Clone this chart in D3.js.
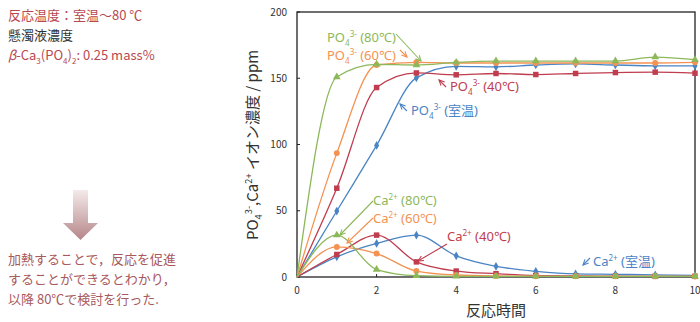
<!DOCTYPE html>
<html>
<head>
<meta charset="utf-8">
<script src="https://cdn.jsdelivr.net/npm/d3@7"></script>
<style>
  body { margin: 0; background: #fff; }
  text { font-family: "Noto Sans CJK JP", "Noto Sans", sans-serif; }
  .ann text { font-family: "Noto Sans", "Noto Sans CJK JP", sans-serif; }
</style>
</head>
<body>
<svg id="chart" width="700" height="322"></svg>
<script>
// data
const times = [0, 1, 2, 3, 4, 5, 6, 7, 8, 9, 10];
const po4Room = [0, 49.8, 99.3, 150.3, 159, 158.6, 160, 160.8, 160, 159.4, 159.4];
const po4T40 = [0, 67, 143, 154, 152.6, 153.6, 152.8, 153.6, 154.3, 154.6, 153.8];
const po4T60 = [0, 93.5, 160, 162, 161.5, 161.5, 161.5, 161.5, 161.5, 161.5, 162];
const po4T80 = [0, 151, 160.5, 160, 162, 163, 163, 163, 163, 166, 164];
const caRoom = [0, 15.2, 25.3, 31.6, 16, 8.1, 4.3, 2.3, 2, 1.6, 1.2];
const caT40 = [0, 17, 31.6, 11.4, 4.5, 2.5, 1.2, 0.8, 0.6, 0.5, 0.5];
const caT60 = [0, 22.7, 17.7, 4.5, 1.5, 0.8, 0.6, 0.5, 0.5, 0.5, 0.5];
const caT80 = [0, 31.6, 5.6, 1, 0.5, 0.5, 0.5, 0.5, 0.5, 0.5, 0.5];
const xTicks = [0, 2, 4, 6, 8, 10];
const yTicks = [0, 50, 100, 150, 200];

const green = '#8cb85a', orange = '#f39251', red = '#bf3d4e', blue = '#4a84c4';

const series = [
  { vals: po4Room, color: blue, sym: d3.symbolDiamond, size: 22 },
  { vals: po4T40, color: red, sym: d3.symbolSquare, size: 30 },
  { vals: po4T60, color: orange, sym: d3.symbolCircle, size: 28 },
  { vals: po4T80, color: green, sym: d3.symbolTriangle, size: 26 },
  { vals: caRoom, color: blue, sym: d3.symbolDiamond, size: 22 },
  { vals: caT40, color: red, sym: d3.symbolSquare, size: 30 },
  { vals: caT60, color: orange, sym: d3.symbolCircle, size: 28 },
  { vals: caT80, color: green, sym: d3.symbolTriangle, size: 26 },
];

const svg = d3.select('#chart');
const x = d3.scaleLinear().domain([0, 10]).range([297, 695]);
const y = d3.scaleLinear().domain([0, 200]).range([277, 12]);

// rich text helper: parts are [text, 'sub'|'sup'|'it'|undefined]
function richText(g, px, py, parts, color, size, anchor) {
  const t = g.append('text').attr('x', px).attr('y', py)
    .attr('fill', color).attr('font-size', size)
    .attr('text-anchor', anchor || 'start');
  let shift = 0;
  parts.forEach(p => {
    const s = t.append('tspan').text(p[0]);
    let want = 0;
    if (p[1] === 'sub') want = size * 0.28;
    if (p[1] === 'sup') want = -size * 0.38;
    if (p[1] === 'it') s.attr('font-style', 'italic');
    if (p[1] === 'sub' || p[1] === 'sup') s.attr('font-size', size * 0.62);
    s.attr('dy', want - shift);
    shift = want;
  });
  return t;
}

// ---- left-side notes ----
richText(svg, 8, 20, [['反応温度：室温〜80 ℃']], '#b8474f', 13);
richText(svg, 8, 40, [['懸濁液濃度']], '#333', 13);
richText(svg, 8, 60, [['β', 'it'], ['-Ca'], ['3', 'sub'], ['(PO'], ['4', 'sub'], [')'], ['2', 'sub'], [': 0.25 mass%']], '#b8474f', 13);

const defs = svg.append('defs');
const grad = defs.append('linearGradient').attr('id', 'arrowGrad')
  .attr('x1', 0).attr('y1', 0).attr('x2', 0).attr('y2', 1);
grad.append('stop').attr('offset', '0%').attr('stop-color', '#f4eaea');
grad.append('stop').attr('offset', '100%').attr('stop-color', '#b58689');
svg.append('path')
  .attr('d', 'M73,190 L88,190 L88,223 L98,223 L80.5,240 L63,223 L73,223 Z')
  .attr('fill', 'url(#arrowGrad)');

const noteColor = '#a8595d';
['加熱することで，反応を促進', 'することができるとわかり，', '以降 80℃で検討を行った.'].forEach((s, i) => {
  richText(svg, 8, 264 + i * 20, [[s]], noteColor, 13);
});

// ---- chart frame and axes ----
const frame = svg.append('g');
frame.append('rect').attr('x', x(0)).attr('y', y(200))
  .attr('width', x(10) - x(0)).attr('height', y(0) - y(200))
  .attr('fill', 'none').attr('stroke', '#222').attr('stroke-width', 1.3);

frame.selectAll('.xt').data(xTicks).join('text')
  .attr('x', d => x(d)).attr('y', 294)
  .attr('text-anchor', 'middle').attr('font-size', 10).attr('fill', '#333')
  .text(d => d);
frame.selectAll('.xtick').data(xTicks).join('line')
  .attr('x1', d => x(d)).attr('x2', d => x(d))
  .attr('y1', y(0)).attr('y2', y(0) - 3).attr('stroke', '#222');
frame.selectAll('.yt').data(yTicks).join('text')
  .attr('x', 287).attr('y', d => y(d) + 3.5)
  .attr('text-anchor', 'end').attr('font-size', 10).attr('fill', '#333')
  .text(d => d);
frame.selectAll('.ytick').data(yTicks).join('line')
  .attr('x1', x(0)).attr('x2', x(0) + 3)
  .attr('y1', d => y(d)).attr('y2', d => y(d)).attr('stroke', '#222');

richText(svg, 496, 316, [['反応時間']], '#333', 15, 'middle');
const yl = svg.append('g').attr('transform', 'translate(258,145) rotate(-90)');
richText(yl, 0, 0, [['PO'], ['4', 'sub'], ['3-', 'sup'], [',Ca'], ['2+', 'sup'], [' イオン濃度 / ppm']], '#333', 15, 'middle');

// ---- lines and markers ----
const line = d3.line()
  .x((d, i) => x(times[i]))
  .y(d => y(d))
  .curve(d3.curveMonotoneX);

const plot = svg.append('g');
series.forEach(s => {
  plot.append('path').attr('d', line(s.vals))
    .attr('fill', 'none').attr('stroke', s.color).attr('stroke-width', 1.3);
});
series.forEach(s => {
  plot.selectAll(null).data(s.vals.slice(1)).join('path')
    .attr('d', d3.symbol().type(s.sym).size(s.size))
    .attr('transform', (d, i) => `translate(${x(times[i + 1])},${y(d)})`)
    .attr('fill', s.color);
});

// ---- annotations ----
const ann = svg.append('g').attr('class', 'ann');
function arrowLine(x1, y1, x2, y2, color) {
  ann.append('line').attr('x1', x1).attr('y1', y1).attr('x2', x2).attr('y2', y2)
    .attr('stroke', color).attr('stroke-width', 1.1);
  const a = Math.atan2(y2 - y1, x2 - x1), L = 6;
  const p1 = [x2 - L * Math.cos(a - 0.45), y2 - L * Math.sin(a - 0.45)];
  const p2 = [x2 - L * Math.cos(a + 0.45), y2 - L * Math.sin(a + 0.45)];
  ann.append('path').attr('d', `M${p1}L${x2},${y2}L${p2}`)
    .attr('fill', 'none').attr('stroke', color).attr('stroke-width', 1.1);
}
const po4 = [['PO'], ['4', 'sub'], ['3-', 'sup']];
const ca = [['Ca'], ['2+', 'sup']];

richText(ann, 327, 42, po4.concat([[' (80℃)']]), green, 13);
arrowLine(396, 34, 421, 61, green);
richText(ann, 327, 60, po4.concat([[' (60℃)']]), orange, 13);
arrowLine(400, 50, 407, 57, orange);
arrowLine(446, 87, 439, 80, red);
richText(ann, 450, 91, po4.concat([[' (40℃)']]), red, 13);
arrowLine(407, 111, 400, 104, blue);
richText(ann, 411, 115, po4.concat([[' (室温)']]), blue, 13);

richText(ann, 373, 205, ca.concat([[' (80℃)']]), green, 13);
arrowLine(373, 201, 340, 235, green);
richText(ann, 373, 223, ca.concat([[' (60℃)']]), orange, 13);
arrowLine(373, 218, 347, 243, orange);
richText(ann, 447, 241, ca.concat([[' (40℃)']]), red, 13);
arrowLine(447, 244, 418, 261, red);
arrowLine(590, 258, 583, 265, blue);
richText(ann, 593, 266, ca.concat([[' (室温)']]), blue, 13);
</script>
</body>
</html>
